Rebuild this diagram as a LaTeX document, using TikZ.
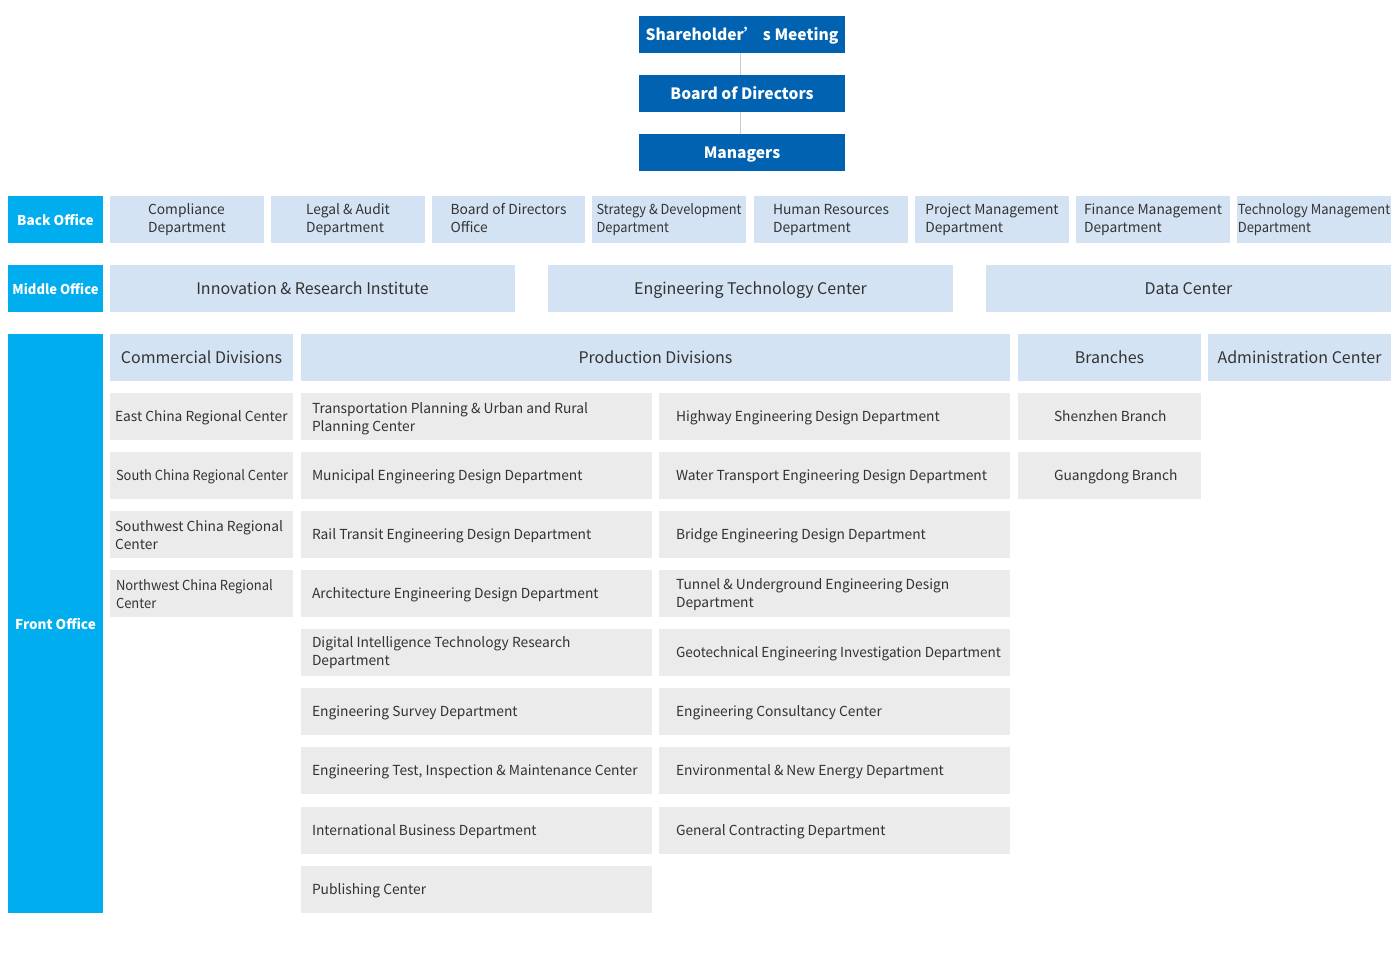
\documentclass[tikz,border=0pt]{standalone}
\usepackage{fontspec}
\setmainfont{Noto Sans CJK SC}
\usepackage{graphicx}
\definecolor{dkblue}{HTML}{0062B1}
\definecolor{cyanlab}{HTML}{00AEEF}
\definecolor{ltblue}{HTML}{D4E3F4}
\definecolor{grbox}{HTML}{EBEBEB}
\definecolor{txt}{HTML}{333333}
\definecolor{conn}{HTML}{CCCCCC}
\newcommand{\bx}[7][]{\node[#1, minimum width={#5pt-#3pt}, minimum height={#6pt-#4pt}] (#2) at ({(#3+#5)/2},{(#4+#6)/2}) {#7};}
% left-aligned block of lines
\newcommand{\tl}[1]{\begin{tabular}{@{}l@{}}#1\end{tabular}}
% lower a block visually, keeping its size
\newcommand{\dn}[2][2pt]{\raisebox{-#1}[\height][\depth]{#2}}
% single line placed flush left inside a given width
\newcommand{\fl}[2]{\makebox[#1][l]{#2}}
% several lines placed flush left inside a given width
\newcommand{\fm}[3][2pt]{\makebox[#2][l]{\dn[#1]{\tl{#3}}}}
\newcommand{\sq}[2]{\scalebox{#1}[1]{#2}}
\tikzset{
  base/.style={inner sep=0pt, outer sep=0pt, draw=none},
  dk/.style={base, fill=dkblue, text=white, font=\bfseries\fontsize{15.6}{19}\selectfont, text height=13.5pt, text depth=1.7pt},
  lab/.style={base, fill=cyanlab, text=white, font=\bfseries\fontsize{13.5}{16}\selectfont},
  lb/.style={base, fill=ltblue, text=txt, font=\fontsize{13.8}{18}\selectfont},
  lbig/.style={base, fill=ltblue, text=txt, font=\fontsize{16}{20}\selectfont, text height=14.5pt, text depth=1.6pt},
  gym/.style={base, fill=grbox, text=txt, font=\fontsize{13.8}{18}\selectfont},
  gy/.style={gym, text height=11pt, text depth=1.9pt},
}
\begin{document}
\begin{tikzpicture}[x=1pt,y=-1pt]
\useasboundingbox[fill=white] (0,0) rectangle (1400,955);
% top
\bx[dk]{sh}{639}{16}{845}{53}{Shareholder’ s Meeting}
\bx[dk]{bd}{639}{75}{845}{112}{Board of Directors}
\bx[dk]{mg}{639}{134}{845}{171}{Managers}
\draw[conn, line width=1pt] ([xshift=-2pt]sh.south) -- ([xshift=-2pt]bd.north);
\draw[conn, line width=1pt] ([xshift=-2pt]bd.south) -- ([xshift=-2pt]mg.north);
% back office
\bx[lab]{bo}{8}{196}{103}{243}{Back Office}
\bx[lb]{b1}{110}{196}{264}{243}{\tl{Compliance\\Department}}
\bx[lb]{b2}{271}{196}{425}{243}{\tl{Legal \& Audit\\Department}}
\bx[lb]{b3}{432}{196}{585}{243}{\tl{Board of Directors\\Office}}
\bx[lb]{b4}{592}{196}{746}{243}{\sq{0.93}{\tl{Strategy \& Development\\Department}}}
\bx[lb]{b5}{754}{196}{908}{243}{\tl{Human Resources\\Department}}
\bx[lb]{b6}{915}{196}{1069}{243}{\tl{Project Management\\Department}}
\bx[lb]{b7}{1076}{196}{1230}{243}{\tl{Finance Management\\Department}}
\bx[lb]{b8}{1237}{196}{1391}{243}{\sq{0.94}{\tl{Technology Management\\Department}}}
% middle office
\bx[lab]{mo}{8}{265}{103}{312}{\sq{0.96}{Middle Office}}
\bx[lbig]{m1}{110}{265}{515}{312}{Innovation \& Research Institute}
\bx[lbig]{m2}{548}{265}{953}{312}{Engineering Technology Center}
\bx[lbig]{m3}{986}{265}{1391}{312}{Data Center}
% front office
\bx[lab]{fo}{8}{334}{103}{913}{Front Office}
\bx[lbig]{f1}{110}{334}{293}{381}{Commercial Divisions}
\bx[lbig]{f2}{301}{334}{1010}{381}{Production Divisions}
\bx[lbig]{f3}{1018}{334}{1201}{381}{Branches}
\bx[lbig]{f4}{1208}{334}{1391}{381}{Administration Center}
% commercial
\bx[gy]{c1}{110}{393}{293}{440}{\fl{173pt}{East China Regional Center}}
\bx[gy]{c2}{110}{452}{293}{499}{\fl{173pt}{\hspace*{1pt}\sq{0.935}{South China Regional Center}}}
\bx[gym]{c3}{110}{511}{293}{558}{\fm{173pt}{Southwest China Regional\\Center}}
\bx[gym]{c4}{110}{570}{293}{617}{\makebox[173pt][l]{\hspace*{1pt}\dn{\sq{0.94}{\tl{Northwest China Regional\\Center}}}}}
% production left
\bx[gym]{p1}{301}{393}{652}{440}{\fm{329pt}{Transportation Planning \& Urban and Rural\\Planning Center}}
\bx[gy]{p2}{301}{452}{652}{499}{\fl{329pt}{Municipal Engineering Design Department}}
\bx[gy]{p3}{301}{511}{652}{558}{\fl{329pt}{Rail Transit Engineering Design Department}}
\bx[gy]{p4}{301}{570}{652}{617}{\fl{329pt}{Architecture Engineering Design Department}}
\bx[gym]{p5}{301}{629}{652}{676}{\fm[0pt]{329pt}{Digital Intelligence Technology Research\\Department}}
\bx[gy]{p6}{301}{688}{652}{735}{\fl{329pt}{Engineering Survey Department}}
\bx[gy]{p7}{301}{747}{652}{794}{\fl{329pt}{Engineering Test, Inspection \& Maintenance Center}}
\bx[gy]{p8}{301}{807}{652}{854}{\fl{329pt}{International Business Department}}
\bx[gy]{p9}{301}{866}{652}{913}{\fl{329pt}{Publishing Center}}
% production right
\bx[gy]{q1}{659}{393}{1010}{440}{\fl{317pt}{Highway Engineering Design Department}}
\bx[gy]{q2}{659}{452}{1010}{499}{\fl{317pt}{Water Transport Engineering Design Department}}
\bx[gy]{q3}{659}{511}{1010}{558}{\fl{317pt}{Bridge Engineering Design Department}}
\bx[gym]{q4}{659}{570}{1010}{617}{\fm[1pt]{317pt}{Tunnel \& Underground Engineering Design\\Department}}
\bx[gy]{q5}{659}{629}{1010}{676}{\fl{317pt}{\sq{0.98}{Geotechnical Engineering Investigation Department}}}
\bx[gy]{q6}{659}{688}{1010}{735}{\fl{317pt}{Engineering Consultancy Center}}
\bx[gy]{q7}{659}{747}{1010}{794}{\fl{317pt}{Environmental \& New Energy Department}}
\bx[gy]{q8}{659}{807}{1010}{854}{\fl{317pt}{General Contracting Department}}
% branches
\bx[gy]{r1}{1018}{393}{1201}{440}{\fl{111pt}{Shenzhen Branch}}
\bx[gy]{r2}{1018}{452}{1201}{499}{\fl{111pt}{Guangdong Branch}}
\end{tikzpicture}
\end{document}
